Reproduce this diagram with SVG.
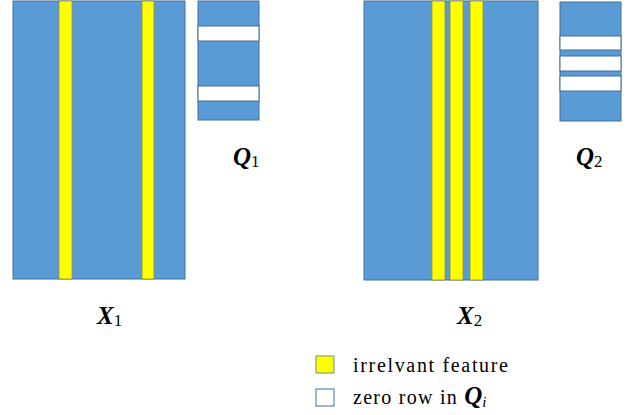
<svg xmlns="http://www.w3.org/2000/svg" width="638" height="415" viewBox="0 0 638 415">
  <style>
    .blk { fill: #5B9BD5; stroke: #41719C; stroke-width: 1; }
    .feat { fill: #FFFF00; stroke: #8C8C3C; stroke-width: 0.8; }
    .zero { fill: #FFFFFF; stroke: #41719C; stroke-width: 1; }
    .lbl { font-family: "Liberation Serif", "DejaVu Serif", serif; fill: #000; }
    .sym { font-weight: bold; font-style: italic; font-size: 25px; }
    .sub { font-size: 17px; }
    .leg { font-size: 20px; }
  </style>

  <!-- data matrix X1 with two irrelevant feature columns -->
  <g id="X1">
    <rect class="blk" x="13" y="1" width="172" height="278"/>
    <rect class="feat" x="59" y="1" width="13" height="278"/>
    <rect class="feat" x="142" y="1" width="12" height="278"/>
    <text class="lbl" x="97" y="324"><tspan class="sym">X</tspan><tspan class="sub" dy="2">1</tspan></text>
  </g>

  <!-- projection Q1 with two zero rows -->
  <g id="Q1">
    <rect class="blk" x="198" y="1" width="61" height="119"/>
    <rect class="zero" x="198" y="26" width="61" height="15"/>
    <rect class="zero" x="198" y="86" width="61" height="15"/>
    <text class="lbl" x="233" y="165"><tspan class="sym">Q</tspan><tspan class="sub" dy="2">1</tspan></text>
  </g>

  <!-- data matrix X2 with three irrelevant feature columns -->
  <g id="X2">
    <rect class="blk" x="364" y="1" width="174" height="279"/>
    <rect class="feat" x="432" y="1" width="13" height="279"/>
    <rect class="feat" x="450" y="1" width="13" height="279"/>
    <rect class="feat" x="470" y="1" width="13" height="279"/>
    <text class="lbl" x="457" y="324"><tspan class="sym">X</tspan><tspan class="sub" dy="2">2</tspan></text>
  </g>

  <!-- projection Q2 with three zero rows -->
  <g id="Q2">
    <rect class="blk" x="560" y="2" width="61" height="119"/>
    <rect class="zero" x="560" y="36" width="61" height="14"/>
    <rect class="zero" x="560" y="56" width="61" height="15"/>
    <rect class="zero" x="560" y="76" width="61" height="15"/>
    <text class="lbl" x="576" y="165"><tspan class="sym">Q</tspan><tspan class="sub" dy="2">2</tspan></text>
  </g>

  <!-- legend -->
  <g id="legend">
    <rect class="feat" x="316" y="356" width="18" height="17" style="stroke:#41719C"/>
    <text class="lbl leg" x="353" y="372" textLength="155" lengthAdjust="spacing">irrelvant feature</text>
    <rect class="zero" x="316" y="389" width="18" height="17"/>
    <text class="lbl leg" x="353" y="404"><tspan textLength="110" lengthAdjust="spacing">zero row in </tspan><tspan class="sym" font-size="23">Q</tspan><tspan font-style="italic" font-size="15" dy="3">i</tspan></text>
  </g>
</svg>
